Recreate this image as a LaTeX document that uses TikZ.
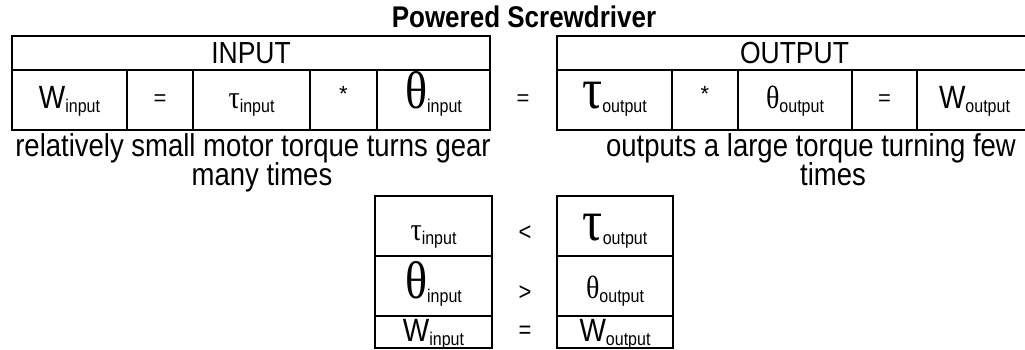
\documentclass[tikz,border=0pt]{standalone}
\usepackage{fontspec}
\setmainfont{Liberation Sans}
\newfontfamily\grk{Liberation Serif}
\newcommand\tall[1]{\scalebox{1}[1.15]{#1}}
\newcommand\sbx[1]{\raisebox{-4pt}{\fontsize{16}{16}\selectfont #1}}
\newcommand\bigW{{\fontsize{28}{28}\selectfont W}}
\newcommand\smtau{{\grk\fontsize{28}{28}\selectfont τ}}
\newcommand\bgtau{{\grk\fontsize{50}{50}\selectfont τ}}
\newcommand\smth{{\grk\fontsize{28}{28}\selectfont θ}}
\newcommand\bgth{{\grk\fontsize{46}{46}\selectfont θ}}
\tikzset{
  cell/.style={draw, line width=2pt, inner sep=0pt},
  lbl/.style={anchor=base, inner sep=0pt},
  sym/.style={inner sep=0pt, font=\fontsize{22}{22}\selectfont},
  head/.style={cell, font=\fontsize{26.5}{26.5}\selectfont},
  note/.style={anchor=base, inner sep=0pt, font=\fontsize{27.5}{27.5}\selectfont}
}
\begin{document}
\begin{tikzpicture}[x=1pt,y=1pt]
\useasboundingbox (0,0) rectangle (1025,349);
\clip (0,0) rectangle (1025,349);
% title
\node[anchor=base, inner sep=0pt, font=\bfseries\fontsize{26}{26}\selectfont] (title) at (524,322) {\tall{Powered Screwdriver}};
% left table
\node[head, minimum width=478, minimum height=34] (inhead) at (251,296) {\tall{INPUT}};
\node[cell, minimum width=115, minimum height=60] (l1) at (69.5,249) {};
\node[cell, minimum width=66, minimum height=60] (l2) at (160,249) {};
\node[cell, minimum width=117, minimum height=60] (l3) at (251.5,249) {};
\node[cell, minimum width=67, minimum height=60] (l4) at (343.5,249) {};
\node[cell, minimum width=113, minimum height=60] (l5) at (433.5,249) {};
\node[lbl] (tl1) at ([yshift=-8]l1.center) {\tall{\bigW\sbx{input}}};
\node[sym] (tl2) at (l2.center) {=};
\node[lbl] (tl3) at ([yshift=-8]l3.center) {\tall{\smtau\sbx{input}}};
\node[sym] (tl4) at ([yshift=6]l4.center) {*};
\node[lbl] (tl5) at ([yshift=-8]l5.center) {\tall{\bgth\sbx{input}}};
\node[sym] (mideq) at (523,249) {=};
% right table
\node[head, minimum width=475, minimum height=34] (outhead) at (794.5,296) {\tall{OUTPUT}};
\node[cell, minimum width=115, minimum height=60] (r1) at (614.5,249) {};
\node[cell, minimum width=66, minimum height=60] (r2) at (705,249) {};
\node[cell, minimum width=114, minimum height=60] (r3) at (795,249) {};
\node[cell, minimum width=65, minimum height=60] (r4) at (884.5,249) {};
\node[cell, minimum width=115, minimum height=60] (r5) at (974.5,249) {};
\node[lbl] (tr1) at ([yshift=-8]r1.center) {\tall{\bgtau\sbx{output}}};
\node[sym] (tr2) at ([yshift=6]r2.center) {*};
\node[lbl] (tr3) at ([yshift=-8]r3.center) {\tall{\smth\sbx{output}}};
\node[sym] (tr4) at (r4.center) {=};
\node[lbl] (tr5) at ([yshift=-8]r5.center) {\tall{\bigW\sbx{output}}};
% notes
\node[note] (nl1) at (253,193) {\tall{relatively small motor torque turns gear}};
\node[note] (nl2) at (262,164) {\tall{many times}};
\node[note] (nr1) at (811,193) {\tall{outputs a large torque turning few}};
\node[note] (nr2) at (833,164) {\tall{times}};
% comparison boxes
\node[cell, minimum width=117, minimum height=60] (a1) at (433.5,123) {};
\node[cell, minimum width=117, minimum height=60] (a2) at (433.5,63) {};
\node[cell, minimum width=117, minimum height=32] (a3) at (433.5,17) {};
\node[cell, minimum width=116, minimum height=60] (b1) at (615,123) {};
\node[cell, minimum width=116, minimum height=60] (b2) at (615,63) {};
\node[cell, minimum width=116, minimum height=32] (b3) at (615,17) {};
\node[lbl] (ta1) at ([yshift=-14]a1.center) {\tall{\smtau\sbx{input}}};
\node[lbl] (ta2) at ([yshift=-12]a2.center) {\tall{\bgth\sbx{input}}};
\node[lbl] (ta3) at ([yshift=-9]a3.center) {\tall{\bigW\sbx{input}}};
\node[lbl] (tb1) at ([yshift=-14]b1.center) {\tall{\bgtau\sbx{output}}};
\node[lbl] (tb2) at ([yshift=-12]b2.center) {\tall{\smth\sbx{output}}};
\node[lbl] (tb3) at ([yshift=-9]b3.center) {\tall{\bigW\sbx{output}}};
\node[sym] (lt) at (525,116) {\tall{<}};
\node[sym] (gt) at (525,56) {\tall{>}};
\node[sym] (eq2) at (525,17) {\tall{=}};
\end{tikzpicture}
\end{document}
